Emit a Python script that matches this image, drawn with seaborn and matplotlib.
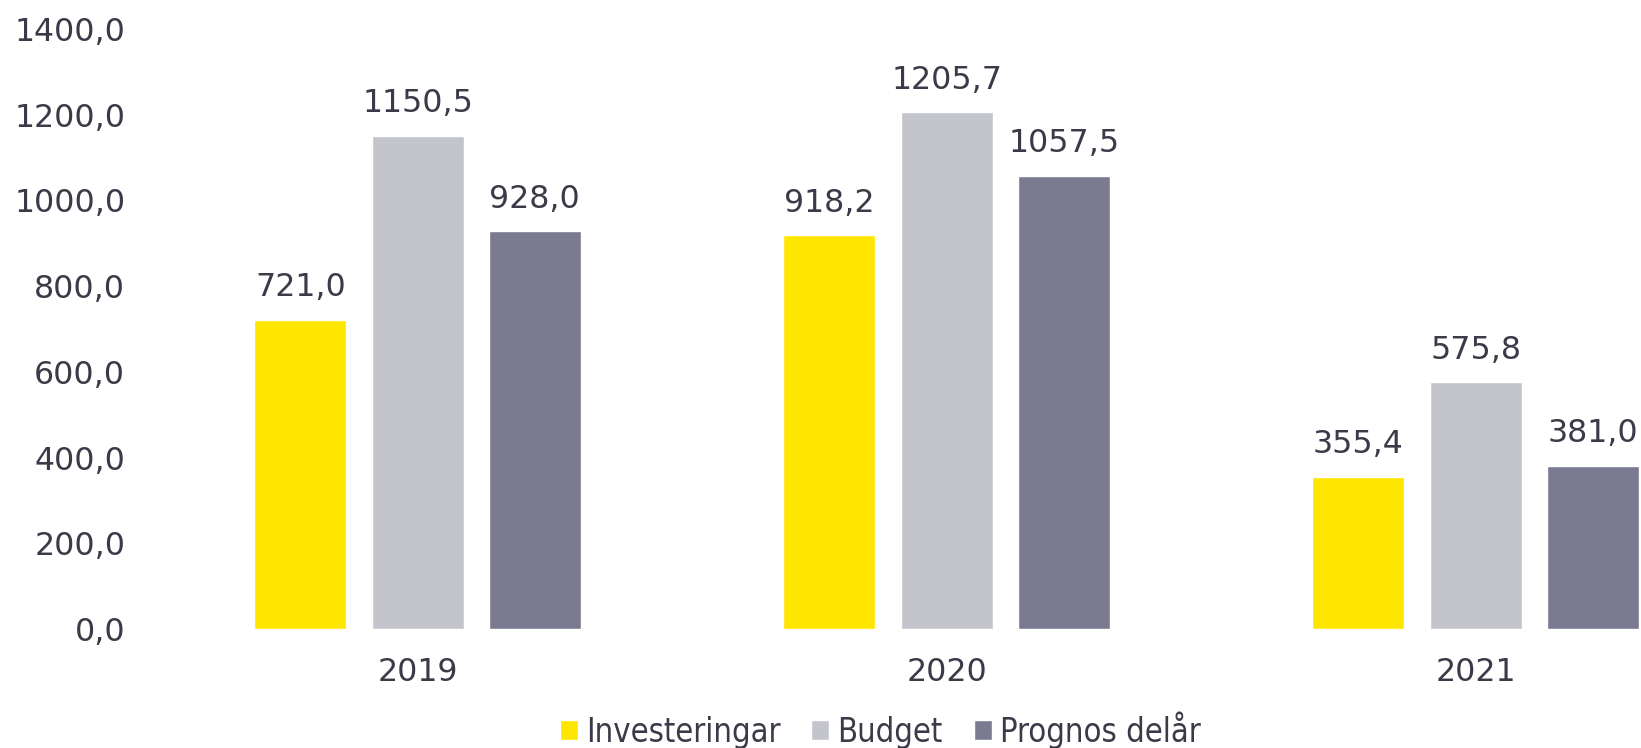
import matplotlib
matplotlib.use("Agg")
import matplotlib.pyplot as plt
import seaborn as sns
import pandas as pd
from matplotlib.font_manager import FontProperties

years = ["2019", "2020", "2021"]
series = ["Investeringar", "Budget", "Prognos delår"]
investeringar = [721.0, 918.2, 355.4]
budget = [1150.5, 1205.7, 575.8]
prognos = [928.0, 1057.5, 381.0]
yticks = [0, 200, 400, 600, 800, 1000, 1200, 1400]
colors = ["#FFE600", "#C4C4CD", "#7A7A90"]

rows = []
for name, vals in zip(series, [investeringar, budget, prognos]):
    for y, v in zip(years, vals):
        rows.append({"År": y, "Serie": name, "Värde": v})
df = pd.DataFrame(rows)

sns.set_theme(style="white")
plt.rcParams["font.family"] = ["DejaVu Sans"]
text_color = "#3A3A48"

fig = plt.figure(figsize=(16.41, 7.48), dpi=100)
ax = fig.add_axes([153 / 1641, (748 - 629) / 748, 1 - 153 / 1641, 600 / 748])

sns.barplot(data=df, x="År", y="Värde", hue="Serie", hue_order=series,
            palette=colors, width=0.665, gap=0.215, saturation=1,
            errorbar=None, ax=ax, legend=True)

for c in ax.containers:
    ax.bar_label(c, labels=[f"{v:.1f}".replace(".", ",") for v in c.datavalues],
                 padding=12, fontsize=22.8, color=text_color)

ax.set_xlim(-0.5, 2.3125)
ax.set_ylim(0, 1400)
ax.set_yticks(yticks)
ax.set_yticklabels([f"{v:.1f}".replace(".", ",") for v in yticks])
ax.set_xlabel("")
ax.set_ylabel("")
ax.tick_params(axis="both", length=0, pad=20, labelsize=22.8, labelcolor=text_color)
for s in ax.spines.values():
    s.set_visible(False)
ax.grid(False)

leg = ax.get_legend()
handles = leg.legend_handles
leg.remove()
fp = FontProperties(family="DejaVu Sans", stretch="condensed", size=23.5)
fig.legend(handles, series, loc="center", bbox_to_anchor=(880 / 1641, 0.024),
           ncol=3, frameon=False, handlelength=0.55, handleheight=0.55,
           handletextpad=0.25, columnspacing=0.95, labelcolor=text_color,
           prop=fp)

fig.savefig("out.png", dpi=100)
